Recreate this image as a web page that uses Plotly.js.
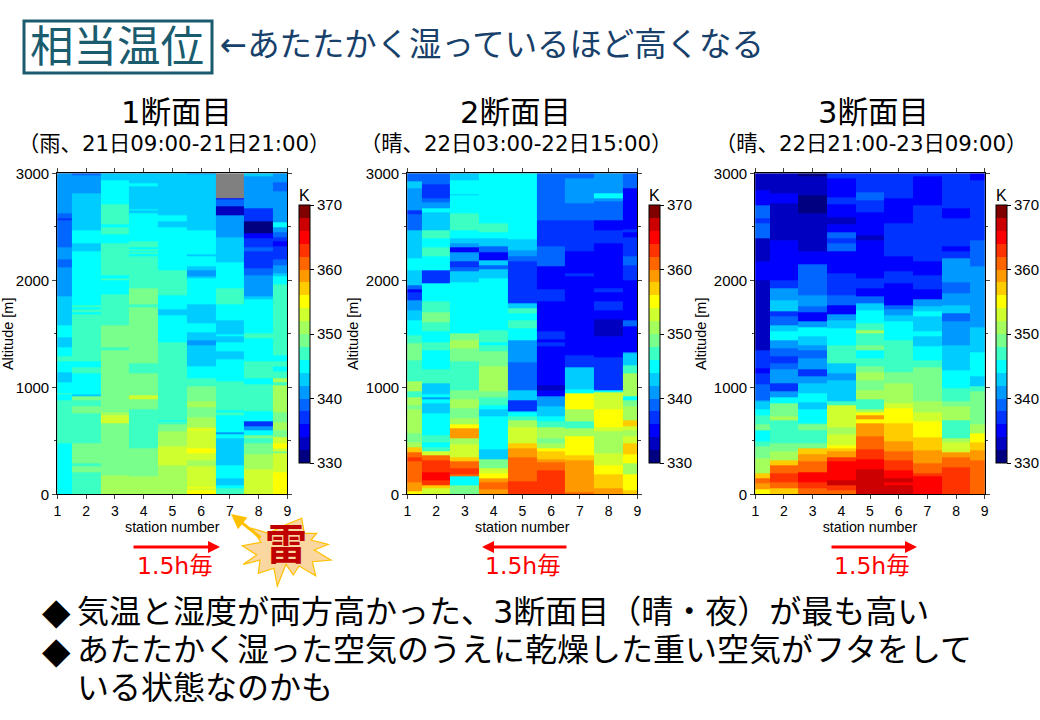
<!DOCTYPE html>
<html>
<head>
<meta charset="utf-8">
<script src="https://cdn.plot.ly/plotly-3.0.1.min.js"></script>
<style>html,body{margin:0;padding:0;background:#fff}#chart{width:1040px;height:720px}</style>
</head>
<body>
<div id="chart"></div>
<script>
// each station: bottom altitude [m], value [K], next bottom, next value ... (null = no data)
const stations = [1, 2, 3, 4, 5, 6, 7, 8, 9];

const section1 = [
  [0,345, 480,347, 880,345, 930,347, 945,345, 1050,343, 1140,345, 1240,347, 1290,345, 1370,343, 1470,345, 1580,343, 1850,341, 2120,339, 2200,341, 2305,339, 2565,337, 2580,339, 2625,341],
  [0,347, 210,349, 260,347, 290,349, 475,347, 760,349, 825,347, 875,349, 920,343, 935,345, 1130,347, 1190,345, 1240,347, 1685,345, 1700,347, 1730,345, 1745,347, 1765,345, 2275,343, 2345,345, 2465,343, 2810,341, 2985,339],
  [0,351, 180,349, 660,353, 740,351, 770,349, 1350,347, 1370,349, 1580,347, 1870,345, 2000,347, 2020,345, 2050,347, 2345,345, 2430,347, 2500,345, 2525,347, 2710,345, 2930,343],
  [0,351, 165,349, 430,347, 795,349, 890,353, 925,349, 1130,347, 1225,349, 1745,347, 1775,349, 1925,347, 2220,345, 2240,347, 2260,345, 2275,347, 2290,345, 2310,347, 2360,345, 2625,343, 2650,345, 2665,343, 2880,345, 2905,343],
  [0,351, 275,353, 450,351, 585,349, 650,347, 680,345, 695,347, 1425,345, 1675,343, 1730,345, 1860,347, 2090,345, 2500,343, 2555,345, 2610,343],
  [0,355, 40,353, 60,355, 70,353, 85,353, 260,351, 320,353, 385,355, 430,353, 600,355, 610,353, 630,351, 720,349, 815,351, 865,349, 1005,347, 1080,345, 1200,343, 1390,341, 1440,343, 1515,345, 1600,343, 1780,345, 2020,343, 2035,341, 2090,343, 2135,345, 2220,343, 2240,345, 2470,343, 2990,341],
  [0,347, 55,345, 85,343, 150,345, 275,343, 525,345, 565,341, 575,345, 740,347, 770,345, 785,347, 1055,345, 1265,343, 1340,345, 1425,343, 1475,345, 1500,343, 1630,345, 1780,347, 1925,345, 2165,343, 2400,341, 2610,333, 2690,339, 2760,335, 2770,null],
  [0,353, 230,351, 370,349, 475,347, 525,349, 555,345, 595,341, 640,337, 685,345, 775,347, 1030,345, 1085,347, 1240,345, 1460,347, 1505,345, 1820,343, 1855,341, 2050,339, 2110,337, 2275,339, 2310,337, 2390,335, 2440,331, 2550,337, 2670,341, 2975,343],
  [0,355, 210,353, 385,349, 400,353, 430,355, 475,353, 530,349, 600,351, 670,349, 770,351, 1015,347, 1050,351, 1085,347, 1145,345, 1200,347, 1240,345, 1300,347, 1965,345, 2040,343, 2070,341, 2140,339, 2200,337, 2315,335, 2365,337, 2400,339, 2450,341, 2495,345, 2545,341, 2830,339, 2915,341]
];

const section2 = [
  [0,355, 30,359, 110,361, 305,363, 350,361, 390,357, 440,351, 490,349, 570,351, 795,349, 835,351, 905,347, 960,351, 1055,347, 1255,349, 1410,347, 1490,345, 1625,343, 1720,341, 1810,337, 1885,335, 1915,339, 1955,343, 2090,345, 2205,343, 2470,339, 2615,337, 2650,341, 2860,343, 2925,339],
  [0,353, 55,357, 80,363, 135,365, 210,363, 320,361, 360,353, 400,347, 440,345, 490,347, 555,345, 760,343, 855,345, 890,341, 905,345, 930,343, 1035,347, 1165,345, 1350,347, 1425,345, 1520,347, 1605,349, 1700,347, 1800,345, 1970,337, 2095,345, 2220,347, 2305,345, 2390,347, 2470,343, 2640,345, 2670,341, 2725,339, 2765,337, 2900,339],
  [0,349, 85,345, 165,361, 190,363, 245,361, 305,357, 350,353, 470,351, 525,359, 615,355, 650,351, 710,349, 805,351, 890,349, 970,347, 1240,349, 1365,351, 1435,349, 1505,345, 1980,343, 2080,339, 2120,337, 2175,341, 2260,335, 2305,341, 2345,343, 2395,345, 2470,347, 2625,345, 2790,343, 2805,345, 2930,343],
  [0,359, 45,361, 110,359, 150,355, 195,353, 245,349, 325,343, 420,345, 730,343, 795,345, 835,347, 905,349, 960,351, 1200,349, 1335,347, 1395,345, 1425,347, 1535,345, 2020,343, 2100,339, 2140,343, 2190,335, 2260,339, 2315,343, 2390,345, 2445,347, 2530,345],
  [0,363, 120,361, 350,359, 430,357, 475,353, 630,351, 690,347, 725,345, 770,343, 780,337, 875,343, 970,339, 1230,341, 1440,345, 1550,347, 1630,345, 1690,347, 1740,343, 1785,337, 2175,339, 2225,341, 2285,343, 2385,345],
  [0,363, 225,361, 295,359, 330,357, 400,355, 430,351, 475,349, 525,351, 625,347, 680,345, 730,343, 820,341, 920,335, 975,333, 1020,335, 1385,337, 1425,335, 1450,337, 1520,335, 1800,337, 1920,335, 2135,339, 2315,337, 2565,339],
  [0,361, 15,359, 320,357, 360,355, 540,351, 615,347, 680,351, 795,355, 945,345, 985,343, 1185,337, 1300,335, 2035,337, 2065,335, 2270,337, 2565,339, 2720,341, 2950,339],
  [0,359, 55,357, 190,355, 275,353, 385,351, 585,353, 630,355, 790,353, 950,345, 975,337, 1285,335, 1480,333, 1635,335, 1720,337, 1800,335, 1885,337, 1925,335, 2345,337, 2465,335, 2565,339, 2735,341, 2770,345, 2810,341],
  [0,357, 40,355, 190,351, 290,355, 370,357, 475,353, 540,351, 600,353, 640,357, 690,351, 820,349, 880,345, 920,351, 1130,347, 1210,343, 1320,341, 1330,335, 1570,339, 1630,335, 2000,337, 2140,339, 2220,337, 2400,335, 2445,337, 2475,335, 2860,339]
];

const section3 = [
  [0,355, 45,359, 105,361, 150,357, 195,351, 335,349, 445,347, 500,345, 600,349, 650,347, 740,345, 790,343, 865,341, 880,339, 1030,337, 1130,335, 1180,337, 1350,333, 2000,335, 2175,333, 2390,339, 2440,339, 2530,337, 2580,339, 2700,335, 2845,333],
  [0,357, 55,361, 110,363, 200,361, 275,357, 320,351, 400,349, 475,347, 695,351, 725,349, 850,345, 910,341, 960,337, 1035,341, 1170,339, 1225,337, 1290,339, 1365,341, 1440,345, 1520,343, 1580,339, 1660,337, 1710,343, 1810,341, 1925,337, 2000,335, 2375,333, 2720,335, 2810,333],
  [0,361, 55,363, 110,365, 210,361, 305,359, 370,357, 430,349, 475,347, 600,349, 650,347, 665,345, 790,343, 860,345, 945,343, 1035,341, 1100,337, 1170,341, 1270,339, 1350,341, 1395,343, 1475,345, 1565,341, 1615,335, 1705,339, 1760,341, 1860,339, 2145,335, 2270,333, 2625,331, 2790,333, 2970,331],
  [0,361, 40,363, 80,367, 130,365, 305,363, 345,359, 400,357, 430,355, 460,353, 565,351, 630,353, 835,347, 865,343, 1070,341, 1130,343, 1225,347, 1395,345, 1550,343, 1630,341, 1680,335, 1770,339, 1860,337, 2065,335, 2270,339, 2345,337, 2390,339, 2445,335, 2520,333, 2585,335, 2710,337, 2780,335, 2950,337],
  [0,367, 235,365, 330,363, 420,361, 540,359, 665,355, 700,359, 735,355, 770,351, 795,347, 890,351, 975,349, 1070,351, 1140,349, 1195,347, 1270,345, 1350,349, 1395,347, 1505,351, 1535,347, 1600,345, 1720,343, 1785,339, 1850,335, 1925,337, 2020,335, 2375,333, 2425,335, 2640,337, 2750,339, 2820,337],
  [0,367, 85,365, 115,367, 150,365, 220,363, 320,361, 400,359, 500,357, 665,355, 805,353, 850,351, 1035,349, 1140,347, 1440,345, 1620,343, 1675,341, 1725,339, 1770,335, 1970,337, 2080,335, 2220,337, 2530,335, 2765,337],
  [0,365, 165,363, 200,361, 290,359, 415,357, 530,355, 680,353, 770,351, 865,349, 1020,349, 1185,347, 1255,345, 1340,345, 1385,343, 1475,345, 1520,343, 1665,345, 1710,343, 1755,341, 1820,335, 1915,337, 2050,335, 2175,337, 2700,335, 2970,337],
  [0,363, 250,361, 350,359, 390,353, 490,351, 525,347, 695,351, 825,349, 865,347, 990,345, 1160,343, 1395,341, 1620,339, 1690,343, 1770,341, 1880,339, 1980,341, 2205,337, 2270,335, 2315,337, 2580,335, 2670,337],
  [0,361, 320,359, 415,357, 490,355, 570,351, 650,349, 960,347, 1010,343, 1100,345, 1325,343, 1565,341, 2135,339, 2375,337, 2935,335]
];

const bandColors = ['#000080','#0000c0','#0000ff','#0033ff','#0066ff','#0099ff','#00ccff','#00ffff','#3cffc4','#78ff8c',
                    '#a4ff5c','#d0ff30','#ffff00','#ffcc00','#ff9900','#ff6600','#ff3300','#ff0000','#cc0000','#800000'];
const sectionTitles = ['1断面目', '2断面目', '3断面目'];
const sectionNotes = ['（雨、21日09:00-21日21:00）', '（晴、22日03:00-22日15:00）', '（晴、22日21:00-23日09:00）'];
const speedLabel = '1.5h毎';

const W = 1040, H = 720, TEXT_FONT = '"DejaVu Sans","Noto Sans CJK JP",sans-serif', AXIS_FONT = '"Liberation Sans",Arial,sans-serif';
const px = x => x / W, py = y => 1 - y / H;

// stepped colour scale, one flat band for every 2 K
const colorscale = [];
bandColors.forEach((c, i) => {
    colorscale.push([i / bandColors.length, c], [(i + 1) / bandColors.length, c]);
});

// columns have their own levels, so put them on one shared y grid
function toGrid(section) {
    const set = new Set([3000]);
    section.forEach(col => { for (let i = 0; i < col.length; i += 2) set.add(col[i]); });
    const edges = [...set].sort((a, b) => a - b);
    const z = edges.slice(0, -1).map(alt => section.map(col => {
        let v = null;
        for (let i = 0; i < col.length; i += 2) if (col[i] <= alt) v = col[i + 1];
        return v;
    }));
    return { edges, z };
}

const panels = [
    { sec: section1, x0: 57.3, x1: 287.3, cb: 298.7, titleX: 176.5, noteX: 174, arrow: [132, 220], labelX: 175 },
    { sec: section2, x0: 407.3, x1: 637.3, cb: 648.7, titleX: 515.5, noteX: 516, arrow: [568, 482], labelX: 523 },
    { sec: section3, x0: 755.3, x1: 984.7, cb: 996, titleX: 873, noteX: 871, arrow: [830, 917], labelX: 872 }
];

const plotTop = 173.3, plotBottom = 494.3;
const traces = [], annotations = [], shapes = [];
const layout = {
    width: W, height: H, margin: { l: 0, r: 0, t: 0, b: 0 },
    paper_bgcolor: '#fff', plot_bgcolor: '#808080', showlegend: false,
    font: { family: AXIS_FONT, color: '#000' }
};

function text(str, x, y, size, color, opts) {
    annotations.push(Object.assign({
        text: str, xref: 'paper', yref: 'paper', x: px(x), y: py(y), xanchor: 'center', yanchor: 'middle',
        showarrow: false, font: { family: TEXT_FONT, size, color }
    }, opts || {}));
}

function arrow(x0, y0, x1, y1, color, width, head) {
    annotations.push({
        text: '', xref: 'paper', yref: 'paper', x: px(x1), y: py(y1), ax: x0 - x1, ay: y0 - y1,
        showarrow: true, arrowcolor: color, arrowwidth: width, arrowhead: 2, arrowsize: head, standoff: 0
    });
}

panels.forEach((p, i) => {
    const n = i === 0 ? '' : String(i + 1);
    const grid = toGrid(p.sec);
    traces.push({
        type: 'heatmap', x: stations, y: grid.edges, z: grid.z, xaxis: 'x' + n, yaxis: 'y' + n,
        zmin: 330, zmax: 370, zsmooth: false, colorscale, hoverongaps: false,
        colorbar: {
            x: px(p.cb), xanchor: 'left', xpad: 0, y: py(334), yanchor: 'middle', ypad: 0,
            thickness: 10.6, thicknessmode: 'pixels', len: 257.7, lenmode: 'pixels',
            outlinewidth: 1, outlinecolor: '#000', ticks: 'outside', ticklen: 4, tickcolor: '#000',
            tick0: 330, dtick: 10, tickfont: { family: AXIS_FONT, size: 15 }
        }
    });
    layout['xaxis' + n] = {
        domain: [px(p.x0), px(p.x1)], anchor: 'y' + n, range: [1, 9], tick0: 1, dtick: 1,
        showgrid: false, zeroline: false, showline: true, linecolor: '#000', linewidth: 1.2, mirror: 'ticks',
        ticks: 'outside', ticklen: 4, tickcolor: '#444', tickfont: { size: 14 },
        title: { text: 'station number', font: { size: 14.3 }, standoff: 2 }
    };
    layout['yaxis' + n] = {
        domain: [py(plotBottom), py(plotTop)], anchor: 'x' + n, range: [0, 3000], tick0: 0, dtick: 1000,
        showgrid: false, zeroline: false, showline: true, linecolor: '#000', linewidth: 1.2, mirror: 'ticks',
        ticks: 'outside', ticklen: 4, tickcolor: '#444', tickfont: { size: 15 },
        minor: { dtick: 500, ticks: 'outside', ticklen: 2.5, tickcolor: '#444', showgrid: false },
        title: { text: 'Altitude [m]', font: { size: 14.5 }, standoff: 3 }
    };
    text(sectionTitles[i], p.titleX, 112, 30.5, '#000');
    text(sectionNotes[i], p.noteX, 144, 21.3, '#000');
    text('K', p.cb + 5.3, 196, 16, '#000', { font: { family: AXIS_FONT, size: 16, color: '#000' } });
    arrow(p.arrow[0], 547, p.arrow[1], 547, '#ff0000', 3, 0.8);
    text(speedLabel, p.labelX, 566, 23.5, '#ff0000');
});

// heading
shapes.push({ type: 'rect', xref: 'paper', yref: 'paper', x0: px(24), x1: px(212), y0: py(73), y1: py(21), line: { color: '#1a5c6e', width: 3 } });
text('相当温位', 117, 47, 43.5, '#1a5c6e');
text('←あたたかく湿っているほど高くなる', 218, 45, 32.4, '#17406a', { xanchor: 'left' });

// lightning burst next to station 7
const burst = [[301.7,518.3],[304.3,533.3],[316.7,533.3],[311,540],[328.3,544.3],[314.3,550],[331,560],[312.3,561.7],[315.7,575.7],[299,566],[293.3,575],[286,564.3],[277.3,586],[274,568.3],[258.3,573.3],[260,560],[243.3,564.3],[256.7,555],[242.3,545.7],[261,542.3],[251.7,528.3],[268.3,533.3],[285,525]];
shapes.push({
    type: 'path', xref: 'paper', yref: 'paper',
    path: 'M' + burst.map(b => px(b[0]) + ',' + py(b[1])).join('L') + 'Z',
    fillcolor: '#fad7a0', line: { color: '#ffc000', width: 1.2 }
});
arrow(262, 539, 231, 514, '#ffc000', 3, 1);
annotations.push({
    text: '<b>雷</b>', xref: 'paper', yref: 'paper', x: px(285.5), y: py(545), xanchor: 'center', yanchor: 'middle',
    showarrow: false, font: { family: TEXT_FONT, size: 42, color: '#c00000' }
});

// bullets
text('◆', 56, 611, 37, '#000');
text('気温と湿度が両方高かった、3断面目（晴・夜）が最も高い', 75, 612, 32, '#000', { xanchor: 'left' });
text('◆', 56, 650, 37, '#000');
text('あたたかく湿った空気のうえに乾燥した重い空気がフタをして', 75, 650, 32, '#000', { xanchor: 'left' });
text('いる状態なのかも', 75, 688, 32, '#000', { xanchor: 'left' });

layout.annotations = annotations;
layout.shapes = shapes;
Plotly.newPlot('chart', traces, layout, { displayModeBar: false, responsive: false });
</script>
</body>
</html>
